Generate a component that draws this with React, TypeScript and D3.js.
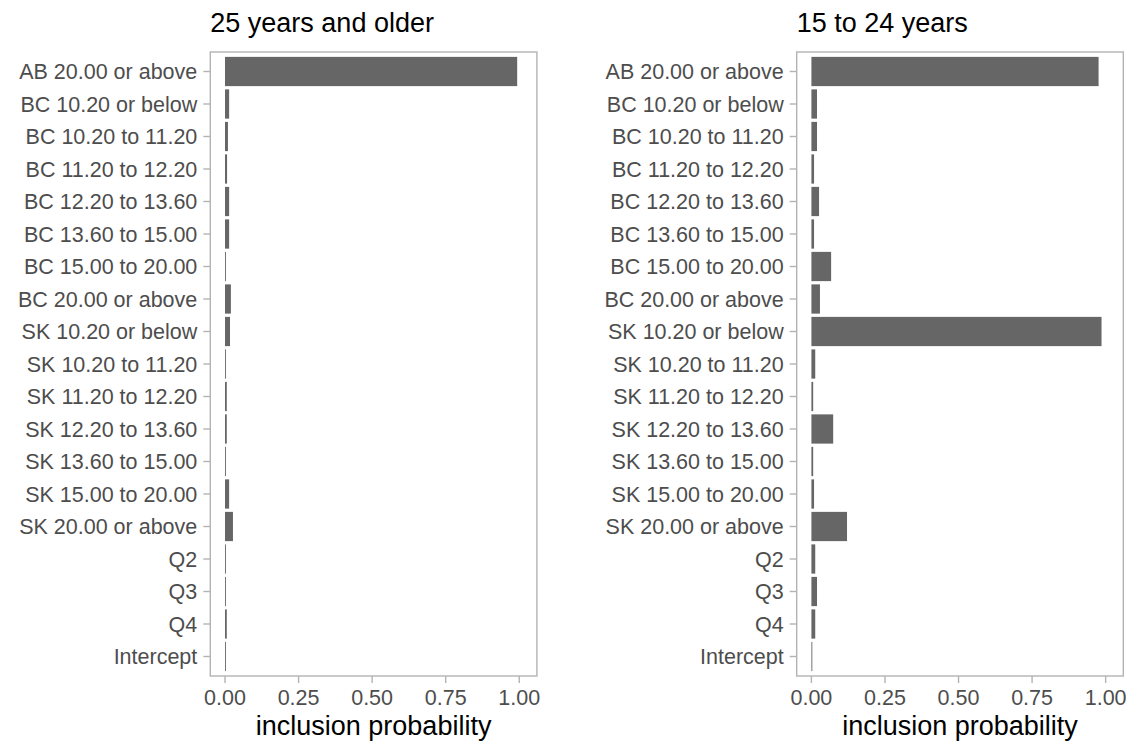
import * as d3 from "d3";

// category order, top to bottom
const categories = [
  "AB 20.00 or above",
  "BC 10.20 or below",
  "BC 10.20 to 11.20",
  "BC 11.20 to 12.20",
  "BC 12.20 to 13.60",
  "BC 13.60 to 15.00",
  "BC 15.00 to 20.00",
  "BC 20.00 or above",
  "SK 10.20 or below",
  "SK 10.20 to 11.20",
  "SK 11.20 to 12.20",
  "SK 12.20 to 13.60",
  "SK 13.60 to 15.00",
  "SK 15.00 to 20.00",
  "SK 20.00 or above",
  "Q2",
  "Q3",
  "Q4",
  "Intercept",
];

const olderValues = [
  0.993, 0.014, 0.01, 0.007, 0.014, 0.014, 0.002, 0.02, 0.017, 0.002,
  0.006, 0.006, 0.002, 0.014, 0.027, 0.002, 0.001, 0.006, 0.001,
];

const youngerValues = [
  0.976, 0.019, 0.019, 0.009, 0.026, 0.009, 0.067, 0.029, 0.986, 0.013,
  0.006, 0.074, 0.006, 0.009, 0.121, 0.013, 0.019, 0.013, 0.002,
];

const panelTitles = ["25 years and older", "15 to 24 years"];
const xTicks = [0, 0.25, 0.5, 0.75, 1];

const W = 1133;
const H = 745;
const TOP = 52;
const BOTTOM = 676;
const PANEL_LEFTS = [210.3, 796.7];
const PANEL_W = 326.6;

const BAR = "#666666";
const BORDER = "#b3b3b3";
const AXIS_TEXT = "#4d4d4d";
const FONT = "'Liberation Sans', Arial, Helvetica, sans-serif";

function Panel({ left, title, values }: { left: number; title: string; values: number[] }) {
  const x = d3.scaleLinear().domain([-0.05, 1.06]).range([left, left + PANEL_W]);
  // discrete scale with ggplot's 0.6 unit padding
  const y = d3
    .scalePoint<string>()
    .domain(categories)
    .range([TOP, BOTTOM])
    .padding(0.6);
  const step = y.step();
  const barH = step * 0.9;

  return (
    <g>
      <text x={left} y={32} fontSize={27} fill="#000" fontFamily={FONT}>
        {title}
      </text>
      {values.map((v, i) => (
        <rect
          key={categories[i]}
          x={x(0)}
          y={(y(categories[i]) ?? 0) - barH / 2}
          width={Math.max(x(v) - x(0), 0.9)}
          height={barH}
          fill={BAR}
        />
      ))}
      <rect
        x={left}
        y={TOP}
        width={PANEL_W}
        height={BOTTOM - TOP}
        fill="none"
        stroke={BORDER}
        strokeWidth={1.4}
      />
      {categories.map((c) => {
        const cy = y(c) ?? 0;
        return (
          <g key={c}>
            <line x1={left - 7} x2={left} y1={cy} y2={cy} stroke={BORDER} strokeWidth={1.4} />
            <text
              x={left - 13}
              y={cy}
              dy="0.36em"
              textAnchor="end"
              fontSize={21.5}
              fill={AXIS_TEXT}
              fontFamily={FONT}
            >
              {c}
            </text>
          </g>
        );
      })}
      {xTicks.map((t) => (
        <g key={t}>
          <line x1={x(t)} x2={x(t)} y1={BOTTOM} y2={BOTTOM + 7} stroke={BORDER} strokeWidth={1.4} />
          <text
            x={x(t)}
            y={705}
            textAnchor="middle"
            fontSize={21.5}
            fill={AXIS_TEXT}
            fontFamily={FONT}
          >
            {t.toFixed(2)}
          </text>
        </g>
      ))}
      <text
        x={left + PANEL_W / 2}
        y={735}
        textAnchor="middle"
        fontSize={27}
        fill="#000"
        fontFamily={FONT}
      >
        inclusion probability
      </text>
    </g>
  );
}

export default function App() {
  return (
    <svg
      width={W}
      height={H}
      style={{ position: "absolute", left: 0, top: 0, background: "#fff" }}
    >
      <Panel left={PANEL_LEFTS[0]} title={panelTitles[0]} values={olderValues} />
      <Panel left={PANEL_LEFTS[1]} title={panelTitles[1]} values={youngerValues} />
    </svg>
  );
}
